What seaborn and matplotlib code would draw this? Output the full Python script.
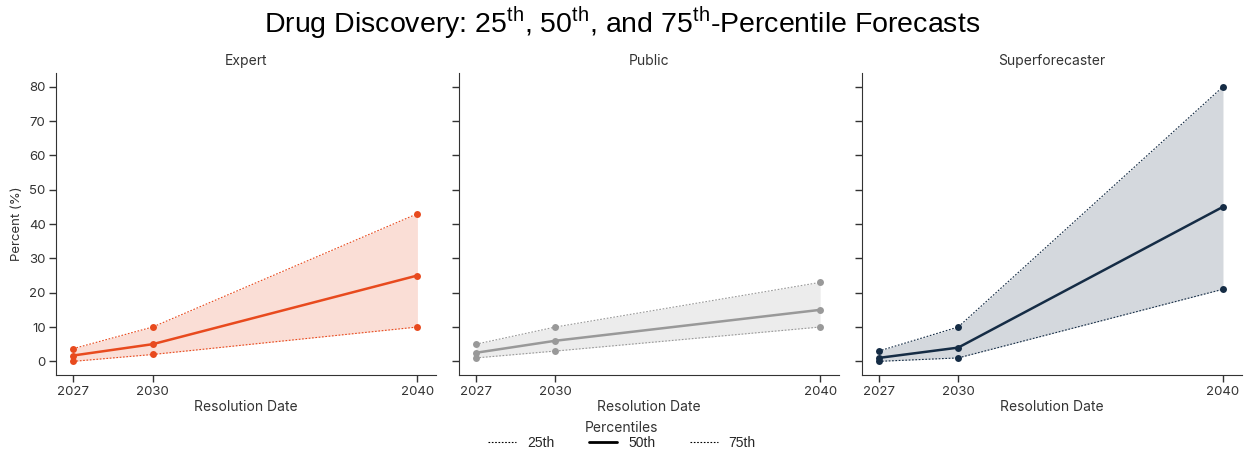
import pandas as pd
import numpy as np
import matplotlib.pyplot as plt
import seaborn as sns
from matplotlib.lines import Line2D

# данные
years = [2027, 2030, 2040]
groups = ['Expert', 'Public', 'Superforecaster']
colors = {'Expert': '#e84a1e', 'Public': '#999999', 'Superforecaster': '#152c45'}

expert_p25 = [0, 2, 10]
expert_p50 = [1.7, 5, 25]
expert_p75 = [3.7, 10, 43]

public_p25 = [1, 3, 10]
public_p50 = [2.5, 6, 15]
public_p75 = [5, 10, 23]

super_p25 = [0, 1, 21]
super_p50 = [1, 4, 45]
super_p75 = [3, 10, 80]

values = {
    'Expert': (expert_p25, expert_p50, expert_p75),
    'Public': (public_p25, public_p50, public_p75),
    'Superforecaster': (super_p25, super_p50, super_p75),
}

rows = []
for g in groups:
    for pname, vals in zip(['25th', '50th', '75th'], values[g]):
        for y, v in zip(years, vals):
            rows.append({'group': g, 'percentile': pname, 'year': y, 'value': v})
df = pd.DataFrame(rows)

sns.set_style('ticks')
plt.rcParams['font.family'] = ['Inter', 'DejaVu Sans']
plt.rcParams['mathtext.fontset'] = 'custom'
plt.rcParams['mathtext.rm'] = 'Liberation Sans'
plt.rcParams['axes.edgecolor'] = '#333333'
plt.rcParams['xtick.color'] = '#333333'
plt.rcParams['ytick.color'] = '#333333'

fig, axes = plt.subplots(1, 3, figsize=(12.44, 4.53), dpi=100, sharey=True)
fig.subplots_adjust(left=0.045, right=0.998, top=0.839, bottom=0.172, wspace=0.06)

dots = (1.5, 1.5)
widths = {'25th': 0.8, '50th': 1.8, '75th': 0.8}

for ax, g in zip(axes, groups):
    c = colors[g]
    sub = df[df['group'] == g]
    for pname in ['25th', '50th', '75th']:
        d = sub[sub['percentile'] == pname]
        sns.lineplot(data=d, x='year', y='value', ax=ax, color=c,
                     linewidth=widths[pname], marker='o', markersize=5,
                     markeredgewidth=0, legend=False)
        if pname != '50th':
            ax.lines[-1].set_dashes(dots)
    p25, p50, p75 = values[g]
    ax.fill_between(years, p25, p75, color=c, alpha=0.18, linewidth=0)
    ax.set_title(g, fontsize=10, color='#333333')
    ax.set_xticks(years)
    ax.set_xlim(2026.35, 2040.7)
    ax.set_ylim(-4, 84)
    ax.set_yticks(range(0, 81, 10))
    ax.set_xlabel('Resolution Date', fontsize=10, color='#333333', labelpad=2)
    ax.set_ylabel('')
    ax.tick_params(labelsize=9.5, length=5, width=1, pad=2.5)
    sns.despine(ax=ax)

axes[0].set_ylabel('Percent (%)', fontsize=9.5, color='#333333')

fig.suptitle(r'Drug Discovery: 25$^{\rm th}$, 50$^{\rm th}$, and 75$^{\rm th}$-Percentile Forecasts',
             fontsize=20.5, family='Liberation Sans', color='black', y=0.99)

# легенда
handles = [Line2D([], [], color='black', linewidth=0.8, dashes=dots),
           Line2D([], [], color='black', linewidth=2),
           Line2D([], [], color='black', linewidth=0.8, dashes=dots)]
leg = fig.legend(handles, ['25th', '50th', '75th'], loc='lower center', ncol=3,
                 bbox_to_anchor=(0.5, 0.0), frameon=False, title='Percentiles',
                 fontsize=10, title_fontsize=10, handlelength=2, columnspacing=2.5,
                 borderpad=0.1, borderaxespad=0.1, labelspacing=0.1)
leg.get_title().set_color('#333333')
for t in leg.get_texts():
    t.set_family('Liberation Sans')

fig.savefig('out.png', dpi=100)
